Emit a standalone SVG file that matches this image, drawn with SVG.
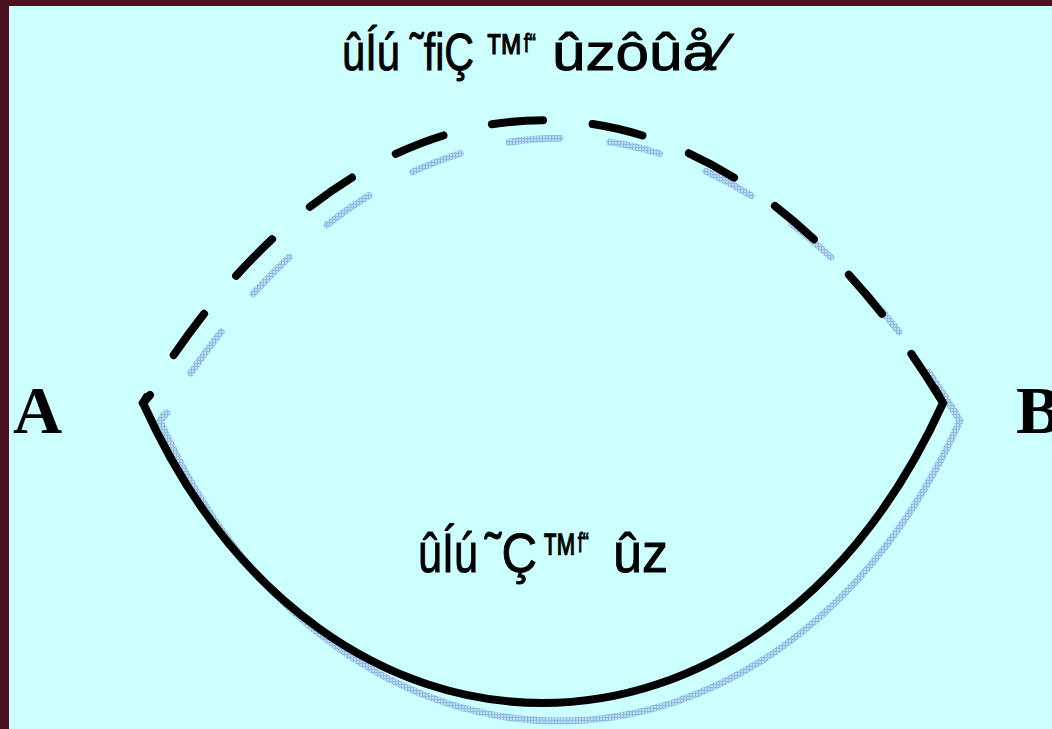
<svg xmlns="http://www.w3.org/2000/svg" xmlns:xlink="http://www.w3.org/1999/xlink" width="1052" height="729" viewBox="0 0 1052 729">
  <style>
    .line { fill: none; stroke: #000; stroke-width: 8; stroke-linecap: round; stroke-linejoin: miter; }
    .shadow { fill: none; stroke: url(#hatch); stroke-width: 7; stroke-linecap: round; stroke-linejoin: miter; }
    .dash { stroke-dasharray: 51.5 50; stroke-dashoffset: 44.5; }
    .label { font-family: "Liberation Sans", Arial, sans-serif; fill: #000; stroke: #000; stroke-width: 0.9; }
    .t { font-size: 52px; }
    .b { font-size: 56px; }
    .pt { font-family: "Liberation Serif", "Times New Roman", serif; font-weight: bold; font-size: 68px; fill: #000; }
  </style>
  <defs>
    <pattern id="hatch" patternUnits="userSpaceOnUse" width="3" height="3">
      <rect width="3" height="3" fill="#B6DCF2"/>
      <rect x="0" y="0" width="3" height="1" fill="#94BCE2"/>
      <rect x="0" y="0" width="1" height="3" fill="#94BCE2"/>
    </pattern>
    <path id="solidPath" d="M150,395 L143,403 C323,803 761,803 943,403 L935,389"/>
    <path id="dashPath" d="M143,403 C369,26 717,26 943,403" pathLength="1029"/>
  </defs>

  <rect x="0" y="0" width="1052" height="729" fill="#4A1020"/>
  <rect x="9" y="6" width="1043" height="723" fill="#CCFFFF"/>

  <g id="connectors">
    <use xlink:href="#solidPath" class="shadow" transform="translate(17,18)"/>
    <use xlink:href="#dashPath" class="shadow dash" transform="translate(17,18)"/>
    <use xlink:href="#solidPath" class="line"/>
    <use xlink:href="#dashPath" class="line dash"/>
  </g>

  <g id="point-A">
    <text class="pt" x="13" y="433">A</text>
  </g>
  <g id="point-B">
    <text class="pt" x="1016" y="433">B</text>
  </g>

  <g id="label-top">
    <text class="label t" x="342" y="70" textLength="58" lengthAdjust="spacingAndGlyphs">ûÍú</text>
    <text class="label t" x="410" y="70" textLength="64" lengthAdjust="spacingAndGlyphs">˜fiÇ</text>
    <text class="label t" x="484" y="70" textLength="52" lengthAdjust="spacingAndGlyphs">™<tspan font-size="26" dy="-18">f“</tspan></text>
    <text class="label t" x="552" y="70" textLength="174" lengthAdjust="spacingAndGlyphs">ûzôûå⁄</text>
  </g>
  <g id="label-bottom">
    <text class="label b" x="418" y="572" textLength="60" lengthAdjust="spacingAndGlyphs">ûÍú</text>
    <text class="label b" x="485" y="572" textLength="52" lengthAdjust="spacingAndGlyphs">˜Ç</text>
    <text class="label b" x="541" y="572" textLength="48" lengthAdjust="spacingAndGlyphs">™<tspan font-size="28" dy="-20">f“</tspan></text>
    <text class="label b" x="613" y="572" textLength="55" lengthAdjust="spacingAndGlyphs">ûz</text>
  </g>
</svg>
